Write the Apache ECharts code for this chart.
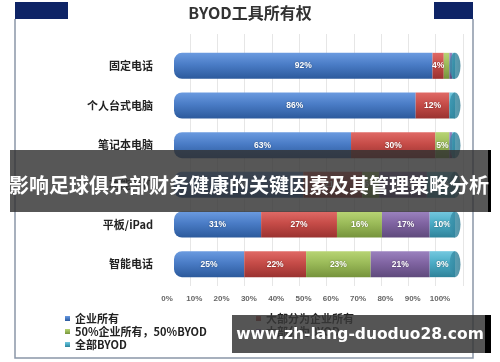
<!DOCTYPE html>
<html><head><meta charset="utf-8">
<script src="https://cdn.jsdelivr.net/npm/echarts@6/dist/echarts.min.js"></script>
<style>html,body{margin:0;padding:0;background:#fff}#c{width:500px;height:362px}</style>
</head><body><div id="c"></div>
<script>
const categories = ['固定电话','个人台式电脑','笔记本电脑','功能手机','平板/iPad','智能电话'];
const seriesNames = ['企业所有','大部分为企业所有','50%企业所有，50%BYOD','大部分为BYOD','全部BYOD'];
const corpOwned = [92,86,63,46,31,25];
const mostlyCorp = [4,12,30,21,27,22];
const halfHalf = [2,0,5,6,16,23];
const mostlyByod = [1,0,1,17,17,21];
const allByod = [1,2,1,10,10,9];
const tickLabels = ['0%','10%','20%','30%','40%','50%','60%','70%','80%','90%','100%'];

const values = [corpOwned, mostlyCorp, halfHalf, mostlyByod, allByod];
const colors = [
  ['#6b9be0','#4a7cc6','#2c5a9c'],
  ['#e06a66','#c64c48','#9a3230'],
  ['#b8d474','#9bbb59','#76933c'],
  ['#9b82bf','#8064a2','#5f4a7c'],
  ['#74c8df','#4bacc6','#2f8299']
];
function grad(c){return new echarts.graphic.LinearGradient(0,0,0,1,[{offset:0,color:c[0]},{offset:0.45,color:c[1]},{offset:1,color:c[2]}]);}

const chart = echarts.init(document.getElementById('c'), null, {renderer:'canvas'});
const barSeries = seriesNames.map((name,i)=>({
  name, type:'bar', stack:'t', xAxisIndex:0, yAxisIndex:0, barWidth:26,
  data: values[i],
  itemStyle:{color:grad(colors[i]), borderRadius: i===0?[8,0,0,8]:0},
  label:{show:true, position:'inside', color:'#fff', fontSize:8.5, fontWeight:'bold',
    fontFamily:'Arial, Liberation Sans', textShadowColor:'rgba(0,0,0,0.4)', textShadowBlur:2,
    formatter:p=>p.value>=4?p.value+'%':''},
  emphasis:{disabled:true}
}));
const totals = categories.map((_,k)=>Math.min(100, values.reduce((s,a)=>s+a[k],0)));
barSeries.push({
  name:'cap', type:'scatter', xAxisIndex:0, yAxisIndex:0, symbol:'circle', symbolSize:[11,26],
  data: totals, z:3,
  itemStyle:{color:new echarts.graphic.LinearGradient(0,0,1,0,[{offset:0,color:'#3a93ad'},{offset:1,color:'#2a7890'}])},
  silent:true
});

const legendText = {fontSize:11, fontWeight:'bold', color:'#222', fontFamily:'Noto Sans CJK SC'};
chart.setOption({
  animation:false,
  color: colors.map(c=>c[1]),
  grid:[
    {left:174, right:45, top:46, bottom:78},
    {left:190, right:37, top:34, bottom:76},
    {left:167, right:60, top:284, height:1}
  ],
  xAxis:[
    {gridIndex:0, type:'value', min:0, max:100, show:false},
    {gridIndex:1, type:'value', min:0, max:100, interval:10, axisLabel:{show:false}, axisLine:{show:false}, axisTick:{show:false},
      splitLine:{show:true, lineStyle:{color:'#e6e6e6', width:1}}},
    {gridIndex:2, type:'category', data:tickLabels, boundaryGap:false, axisLine:{show:false}, axisTick:{show:false},
      axisLabel:{margin:10, fontSize:8, fontWeight:'bold', color:'#666', fontFamily:'Arial, Liberation Sans', interval:0}}
  ],
  yAxis:[
    {gridIndex:0, type:'category', data:categories, inverse:true, axisLine:{show:false}, axisTick:{show:false},
      axisLabel:{margin:21, fontSize:11, fontWeight:'bold', color:'#222', fontFamily:'Noto Sans CJK SC', padding:[13,0,0,0]}},
    {gridIndex:1, type:'value', show:false},
    {gridIndex:2, type:'value', show:false}
  ],
  legend:[
    {left:60, top:308, orient:'vertical', itemGap:2, itemWidth:5, itemHeight:5, icon:'rect',
      data:[seriesNames[0], seriesNames[2], seriesNames[4]], textStyle:legendText},
    {left:251, top:308, orient:'vertical', itemGap:2, itemWidth:5, itemHeight:5, icon:'rect',
      data:[seriesNames[1], seriesNames[3]], textStyle:legendText}
  ],
  series: barSeries,
  graphic:[
    {type:'rect', shape:{x:15,y:2,width:53,height:17}, style:{fill:'#0e2466'}},
    {type:'rect', shape:{x:434,y:2,width:39,height:17}, style:{fill:'#0e2466'}},
    {type:'polyline', shape:{points:[[15,19],[15,358],[473,358],[473,19]]}, style:{stroke:'#8a96a8', lineWidth:1.5, fill:null}},
    {type:'text', left:'center', top:5, style:{text:'BYOD工具所有权', fontSize:16, fontWeight:'bold', fill:'#333', fontFamily:'Noto Sans CJK SC'}},
    {type:'rect', z:100, shape:{x:10,y:150,width:478,height:62}, style:{fill:'rgba(50,50,50,0.82)'}},
    {type:'rect', z:100, shape:{x:488,y:150,width:3,height:62}, style:{fill:'#000'}},
    {type:'text', z:101, x:249, y:185, style:{text:'影响足球俱乐部财务健康的关键因素及其管理策略分析', fontSize:20, fontWeight:'bold', fill:'#fff', fontFamily:'Noto Sans CJK SC', align:'center', verticalAlign:'middle'}},
    {type:'rect', z:100, shape:{x:232,y:315,width:253,height:38}, style:{fill:'rgba(55,55,55,0.85)'}},
    {type:'rect', z:100, shape:{x:485,y:315,width:6,height:38}, style:{fill:'#000'}},
    {type:'text', z:101, x:360, y:335, style:{text:'www.zh-lang-duoduo28.com', fontSize:15.5, fontWeight:'bold', fill:'#fff', fontFamily:'DejaVu Sans, Noto Sans', align:'center', verticalAlign:'middle'}}
  ]
});
</script></body></html>
